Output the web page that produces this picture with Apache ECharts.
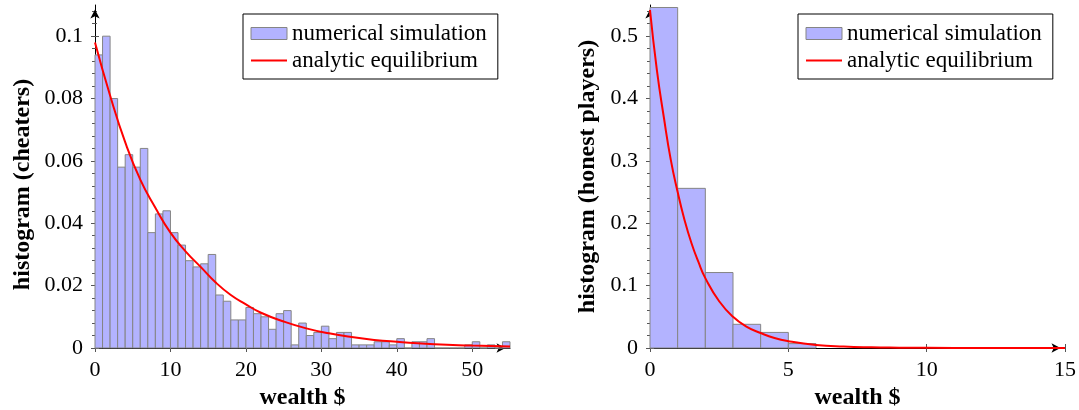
<!DOCTYPE html>
<html><head><meta charset="utf-8">
<script src="https://cdn.jsdelivr.net/npm/echarts@6/dist/echarts.min.js"></script>
<style>html,body{margin:0;padding:0;background:#fff}#c{width:1079px;height:410px}</style>
</head><body><div id="c"></div>
<script>
// ---- data ----
const seriesNames = ['numerical simulation', 'analytic equilibrium'];
const xAxisTitle = 'wealth $';
const leftYTitle = 'histogram (cheaters)';
const rightYTitle = 'histogram (honest players)';

const cheaterBinEdges = [0,1,2,3,4,5,6,7,8,9,10,11,12,13,14,15,16,17,18,19,20,21,22,23,24,25,26,27,28,29,30,31,32,33,34,35,36,37,38,39,40,41,42,43,44,45,46,47,48,49,50,51,52,53,54,55];
const cheaterHist = [0.094,0.100,0.080,0.058,0.062,0.058,0.064,0.037,0.043,0.044,
  0.037,0.033,0.028,0.026,0.027,0.030,0.017,0.015,0.009,0.009,
  0.013,0.011,0.010,0.006,0.011,0.012,0.001,0.008,0.004,0.005,
  0.007,0.003,0.005,0.005,0.001,0.001,0.001,0.002,0.002,0.001,
  0.003,0,0.002,0.002,0.003,0,0,0,0,0.001,
  0.002,0,0.001,0,0.002];
const cheaterCurveX = [0,2,4,6,8,10,12,14,16,18,20,22,25,28,31,34,37,40,45,50,55];
const cheaterCurveY = [0.098,0.081,0.066,0.054,0.045,0.037,0.031,0.026,0.021,0.017,0.014,0.0113,0.0085,0.0063,0.0047,0.0035,0.0026,0.0020,0.0012,0.0008,0.0005];

const honestBinEdges = [0,1,2,3,4,5,6];
const honestHist = [0.546,0.256,0.121,0.038,0.025,0.007];
const honestCurveX = [0,0.25,0.5,0.75,1,1.25,1.5,1.75,2,2.5,3,3.5,4,4.5,5,6,7,8,9,10,12,15];
const honestCurveY = [0.542,0.445,0.370,0.302,0.250,0.205,0.168,0.138,0.112,0.075,0.050,0.034,0.024,0.016,0.011,0.005,0.0023,0.0011,0.0006,0.0003,0.0001,0];

const cheaterXTicks = [0,10,20,30,40,50];
const cheaterYTicks = [0,0.02,0.04,0.06,0.08,0.1];
const honestXTicks = [0,5,10,15];
const honestYTicks = [0,0.1,0.2,0.3,0.4,0.5];

// ---- styling ----
const FONT = 'Liberation Serif';
const BAR_FILL = '#b3b3ff';
const BAR_EDGE = '#858585';
const TICK_COLOR = '#555';

function histData(edges, vals) {
  return vals.map((v, i) => [edges[i], edges[i + 1], v]);
}
function curveData(xs, ys) { return xs.map((x, i) => [x, ys[i]]); }

function renderHist(params, api) {
  const x0 = api.value(0), x1 = api.value(1), y = api.value(2);
  const p0 = api.coord([x0, 0]);
  const p1 = api.coord([x1, y]);
  return {
    type: 'rect',
    shape: { x: p0[0], y: p1[1], width: p1[0] - p0[0], height: p0[1] - p1[1] },
    style: { fill: BAR_FILL, stroke: BAR_EDGE, lineWidth: 1 }
  };
}

const GRID_H = 343;
const grids = [
  { left: 95, top: 5, width: 415, height: GRID_H, containLabel: false, outerBoundsMode: 'none' },
  { left: 650, top: 5, width: 415, height: GRID_H, containLabel: false, outerBoundsMode: 'none' }
];

function mainX(gi, max, interval, ticks) {
  return {
    type: 'value', gridIndex: gi, min: 0, max: max, interval: interval, position: 'bottom',
    name: xAxisTitle, nameLocation: 'middle', nameGap: 38,
    nameTextStyle: { fontFamily: FONT, fontSize: 24, fontWeight: 'bold', color: '#000' },
    axisLine: { show: true, onZero: false, lineStyle: { color: '#000', width: 1 },
      symbol: ['none', 'arrow'], symbolSize: [7, 9], symbolOffset: [0, -4.5] },
    axisTick: { show: true, inside: false, length: 4, customValues: ticks, lineStyle: { color: TICK_COLOR } },
    axisLabel: { customValues: ticks, margin: 11, fontFamily: FONT, fontSize: 22, color: '#000' },
    splitLine: { show: false }, minorTick: { show: false }
  };
}
function overlayX(gi, max, interval, ticks) {
  return {
    type: 'value', gridIndex: gi, min: 0, max: max, interval: interval, position: 'top', offset: -GRID_H,
    axisLine: { show: false, onZero: false },
    axisTick: { show: true, inside: false, length: 4, customValues: ticks, lineStyle: { color: TICK_COLOR } },
    axisLabel: { show: false }, splitLine: { show: false }, minorTick: { show: false }
  };
}
function mainY(gi, max, interval, ticks, title, gap, pad) {
  return {
    type: 'value', gridIndex: gi, min: 0, max: max, interval: interval, position: 'left',
    name: title, nameLocation: 'middle', nameGap: gap,
    nameTextStyle: { fontFamily: FONT, fontSize: 24, fontWeight: 'bold', color: '#000', padding: pad },
    axisLine: { show: true, onZero: false, lineStyle: { color: '#000', width: 1 },
      symbol: ['none', 'arrow'], symbolSize: [7, 9], symbolOffset: [0, -4.5] },
    axisTick: { show: true, inside: false, length: 4, customValues: ticks, lineStyle: { color: TICK_COLOR } },
    minorTick: { show: true, splitNumber: 5, length: 3, lineStyle: { color: TICK_COLOR } },
    axisLabel: { customValues: ticks, margin: 12, fontFamily: FONT, fontSize: 22, color: '#000' },
    splitLine: { show: false }, minorSplitLine: { show: false }
  };
}
function overlayY(gi, max, interval, ticks, width) {
  return {
    type: 'value', gridIndex: gi, min: 0, max: max, interval: interval, position: 'right', offset: -width,
    axisLine: { show: false, onZero: false },
    axisTick: { show: true, inside: false, length: 4, customValues: ticks, lineStyle: { color: TICK_COLOR } },
    minorTick: { show: true, splitNumber: 5, length: 2, lineStyle: { color: TICK_COLOR } },
    axisLabel: { show: false }, splitLine: { show: false }, minorSplitLine: { show: false }
  };
}

function legendAt(left) {
  return {
    left: left, top: 14, orient: 'vertical', selectedMode: false,
    itemWidth: 36, itemHeight: 12, itemGap: 4,
    padding: [8, 11, 7, 7],
    borderColor: '#000', borderWidth: 1, backgroundColor: '#fff',
    textStyle: { fontFamily: FONT, fontSize: 23, color: '#000', lineHeight: 22 },
    data: [
      { name: seriesNames[0], icon: 'rect', itemStyle: { color: BAR_FILL, borderColor: BAR_EDGE, borderWidth: 1 } },
      { name: seriesNames[1], itemStyle: { opacity: 0 }, lineStyle: { color: '#ff0000', width: 2, opacity: 1 } }
    ]
  };
}

const option = {
  animation: false,
  backgroundColor: '#fff',
  grid: grids,
  legend: [legendAt(243), legendAt(798)],
  xAxis: [
    mainX(0, 55, 10, cheaterXTicks), overlayX(0, 55, 10, cheaterXTicks),
    mainX(1, 15, 5, honestXTicks), overlayX(1, 15, 5, honestXTicks)
  ],
  yAxis: [
    mainY(0, 0.11, 0.02, cheaterYTicks, leftYTitle, 60, [0, 16, 0, 0]), overlayY(0, 0.11, 0.02, cheaterYTicks, 415),
    mainY(1, 0.55, 0.1, honestYTicks, rightYTitle, 50, 0), overlayY(1, 0.55, 0.1, honestYTicks, 415)
  ],
  series: [
    { type: 'custom', name: seriesNames[0], xAxisIndex: 0, yAxisIndex: 0, renderItem: renderHist,
      data: histData(cheaterBinEdges, cheaterHist), encode: { x: [0, 1], y: 2 },
      itemStyle: { color: BAR_FILL }, z: 2 },
    { type: 'line', name: seriesNames[1], xAxisIndex: 0, yAxisIndex: 0,
      data: curveData(cheaterCurveX, cheaterCurveY), symbol: 'none', showSymbol: false, smooth: 0.5,
      lineStyle: { color: '#ff0000', width: 2 }, itemStyle: { color: '#ff0000' }, z: 3 },
    { type: 'custom', name: seriesNames[0], xAxisIndex: 2, yAxisIndex: 2, renderItem: renderHist,
      data: histData(honestBinEdges, honestHist), encode: { x: [0, 1], y: 2 },
      itemStyle: { color: BAR_FILL }, z: 2 },
    { type: 'line', name: seriesNames[1], xAxisIndex: 2, yAxisIndex: 2,
      data: curveData(honestCurveX, honestCurveY), symbol: 'none', showSymbol: false, smooth: 0.5,
      lineStyle: { color: '#ff0000', width: 2 }, itemStyle: { color: '#ff0000' }, z: 3 }
  ]
};

const chart = echarts.init(document.getElementById('c'), null, { renderer: 'canvas' });
chart.setOption(option);
</script>
</body></html>
